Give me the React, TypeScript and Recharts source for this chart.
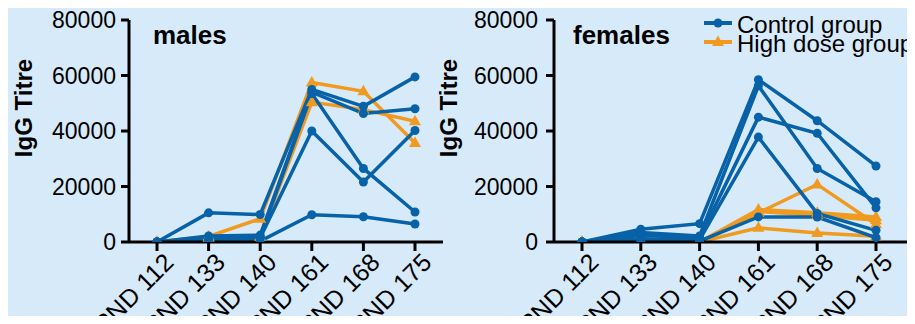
import { LineChart, Line, XAxis, YAxis } from "recharts";

const DAYS = ["PND 112", "PND 133", "PND 140", "PND 161", "PND 168", "PND 175"];
const Y_TICKS = [0, 20000, 40000, 60000, 80000];

// individual animals, one array per animal, values per day
const MALE_CONTROL = [
  [0, 10500, 9900, 55000, 48900, 59500],
  [0, 2200, 2500, 54000, 46300, 48000],
  [0, 1000, 1800, 53500, 26500, 10800],
  [0, 500, 1500, 40000, 21600, 40200],
  [0, 0, 300, 9800, 9100, 6500],
];
const MALE_HIGH = [
  [0, 2000, 8400, 57500, 54300, 35700],
  [0, 1500, 1800, 50400, 47700, 43500],
];
const FEMALE_CONTROL = [
  [0, 4600, 6600, 58500, 43700, 27400],
  [0, 3400, 2200, 56300, 26500, 14500],
  [0, 2400, 1500, 45000, 39200, 12300],
  [0, 1200, 800, 37800, 10300, 4200],
  [0, 500, 300, 9050, 9000, 1600],
];
const FEMALE_HIGH = [
  [0, 0, 0, 10500, 20750, 6400],
  [0, 0, 0, 11700, 10500, 9050],
  [0, 0, 0, 11000, 9650, 7850],
  [0, 0, 0, 5100, 3250, 2050],
];

const BLUE = "#0862A8";
const ORANGE = "#F09A20";
const BG = "#D6EAFA";
const FONT = "'Liberation Sans', Arial, sans-serif";

const LEGEND_ITEMS = [
  { label: "Control group", color: BLUE, shape: "circle" },
  { label: "High dose group", color: ORANGE, shape: "triangle" },
];

function toRows(control: number[][], high: number[][]) {
  return DAYS.map((day, i) => {
    const row: Record<string, string | number> = { day };
    control.forEach((s, k) => (row[`c${k}`] = s[i]));
    high.forEach((s, k) => (row[`h${k}`] = s[i]));
    return row;
  });
}

const Triangle = (props: any) => {
  const { cx, cy, index } = props;
  if (cx == null || cy == null) return <g key={index} />;
  return (
    <polygon
      key={index}
      points={`${cx},${cy - 6.5} ${cx - 6},${cy + 4} ${cx + 6},${cy + 4}`}
      fill={ORANGE}
    />
  );
};

const DayTick = (props: any) => {
  const { x, y, payload } = props;
  const ax = x + 18;
  const ay = y + 13;
  return (
    <text
      x={ax}
      y={ay}
      textAnchor="end"
      transform={`rotate(-45 ${ax} ${ay})`}
      fontSize={25}
      fontFamily={FONT}
      fill="#000"
    >
      {payload.value}
    </text>
  );
};

const axisStroke = { stroke: "#000", strokeWidth: 3 };

// legend drawn inside the svg so it takes no room from the plot
function LegendGroup({ x, y }: { x: number; y: number }) {
  return (
    <g>
      {LEGEND_ITEMS.map((it, i) => {
        const cy = y + i * 19;
        const cx = x + 14;
        return (
          <g key={it.label}>
            <line x1={x} x2={x + 28} y1={cy} y2={cy} stroke={it.color} strokeWidth={4} />
            {it.shape === "circle" ? (
              <circle cx={cx} cy={cy} r={4.5} fill={it.color} />
            ) : (
              <polygon points={`${cx},${cy - 6.5} ${cx - 6},${cy + 4} ${cx + 6},${cy + 4}`} fill={it.color} />
            )}
            <text x={x + 33} y={cy + 10} fontSize={24} fontFamily={FONT} fill="#000">
              {it.label}
            </text>
          </g>
        );
      })}
    </g>
  );
}

type PanelProps = {
  title: string;
  control: number[][];
  high: number[][];
  left: number;
  width: number;
  yAxisWidth: number;
  rightMargin: number;
  padding: { left: number; right: number };
  titleX: number;
  labelX: number;
  tickMargin: number;
  legendX?: number;
};

function Panel(p: PanelProps) {
  const data = toRows(p.control, p.high);
  return (
    <div style={{ position: "absolute", left: p.left, top: 0 }}>
      <LineChart
        width={p.width}
        height={324}
        data={data}
        margin={{ top: 20, right: p.rightMargin, bottom: 0, left: 0 }}
      >
        <XAxis
          dataKey="day"
          height={82}
          padding={p.padding}
          axisLine={axisStroke}
          tickLine={axisStroke}
          tickSize={9}
          tickMargin={0}
          tick={<DayTick />}
          interval={0}
        />
        <YAxis
          width={p.yAxisWidth}
          domain={[0, 80000]}
          ticks={Y_TICKS}
          axisLine={axisStroke}
          tickLine={axisStroke}
          tickSize={8}
          tickMargin={p.tickMargin}
          tick={{ fill: "#000", fontSize: 23, fontFamily: FONT }}
          allowDataOverflow
        />
        {p.high.map((_, k) => (
          <Line
            key={`h${k}`}
            dataKey={`h${k}`}
            stroke={ORANGE}
            strokeWidth={3.5}
            dot={<Triangle />}
            activeDot={false}
            isAnimationActive={false}
          />
        ))}
        {p.control.map((_, k) => (
          <Line
            key={`c${k}`}
            dataKey={`c${k}`}
            stroke={BLUE}
            strokeWidth={3.5}
            dot={{ r: 4.5, fill: BLUE, stroke: "none" }}
            activeDot={false}
            isAnimationActive={false}
          />
        ))}
        {p.legendX != null && <LegendGroup x={p.legendX} y={23} />}
        <text x={p.titleX} y={44} fontSize={26} fontWeight="bold" fontFamily={FONT} fill="#000">
          {p.title}
        </text>
        <text
          x={p.labelX}
          y={108}
          textAnchor="middle"
          transform={`rotate(-90 ${p.labelX} 108)`}
          fontSize={24}
          fontWeight="bold"
          fontFamily={FONT}
          fill="#000"
        >
          IgG Titre
        </text>
      </LineChart>
    </div>
  );
}

export default function App() {
  return (
    <div
      style={{
        margin: -8,
        width: 915,
        height: 324,
        position: "relative",
        overflow: "hidden",
        background: BG,
        boxSizing: "border-box",
        borderLeft: "3px solid #E3F0FC",
      }}
    >
      <Panel
        title="males"
        control={MALE_CONTROL}
        high={MALE_HIGH}
        left={-3}
        width={460}
        yAxisWidth={129}
        rightMargin={17}
        padding={{ left: 28, right: 28 }}
        titleX={153}
        labelX={32}
        tickMargin={5}
      />
      <Panel
        title="females"
        control={FEMALE_CONTROL}
        high={FEMALE_HIGH}
        left={427}
        width={485}
        yAxisWidth={124}
        rightMargin={8}
        padding={{ left: 28, right: 31 }}
        titleX={143}
        labelX={27}
        tickMargin={8}
        legendX={274}
      />
    </div>
  );
}
